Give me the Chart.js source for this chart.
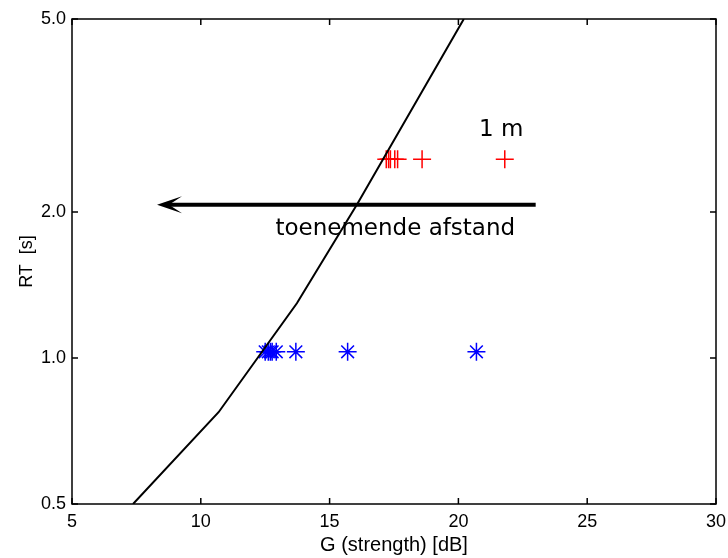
<!DOCTYPE html>
<html>
<head>
<meta charset="utf-8">
<script src="https://cdn.jsdelivr.net/npm/chart.js@4.4.1/dist/chart.umd.min.js"></script>
<style>
    html, body { margin: 0; padding: 0; background: #fff; }
    #wrap { width: 728px; height: 558px; }
</style>
</head>
<body>
<div id="wrap"><canvas id="rtChart" width="728" height="558"></canvas></div>
<script>
// Reference curve (G vs RT)
const curveG = [7.37, 10.69, 13.73, 16.08, 20.21];
const curveRT = [0.5, 0.773, 1.297, 2.08, 5.0];

// Red + markers (RT ~ 2.6 s)
const redG = [17.20, 17.29, 17.36, 17.53, 17.64, 18.59, 21.80];
const redRT = [2.57, 2.57, 2.57, 2.57, 2.57, 2.57, 2.57];

// Blue * markers (RT ~ 1.0 s)
const blueG = [12.50, 12.62, 12.70, 12.77, 12.93, 13.69, 15.70, 20.70];
const blueRT = [1.03, 1.03, 1.03, 1.03, 1.03, 1.03, 1.03, 1.03];

// Tick labels
const xTicks = [5, 10, 15, 20, 25, 30];
const yTicks = [0.5, 1.0, 2.0, 5.0];

// Annotations (in data units)
const arrowTail = [23.0, 2.07];
const arrowTip = [8.3, 2.07];
const noteTexts = ['1 m', 'toenemende afstand'];
const noteG = [20.8, 17.55];
const noteRT = [2.87, 1.79];

const toPoints = (xs, ys) => xs.map((v, i) => ({ x: v, y: ys[i] }));

// Frame, inward ticks, arrow and text
const annotate = {
    id: 'annotate',
    afterDraw(chart) {
        const { ctx, chartArea: a, scales: { x, y } } = chart;
        ctx.save();
        ctx.strokeStyle = '#000';
        ctx.lineWidth = 1.5;
        ctx.strokeRect(a.left, a.top, a.right - a.left, a.bottom - a.top);

        ctx.beginPath();
        x.ticks.forEach(t => {
            const px = x.getPixelForValue(t.value);
            ctx.moveTo(px, a.bottom); ctx.lineTo(px, a.bottom - 6);
            ctx.moveTo(px, a.top); ctx.lineTo(px, a.top + 6);
        });
        y.ticks.forEach(t => {
            const py = y.getPixelForValue(t.value);
            ctx.moveTo(a.left, py); ctx.lineTo(a.left + 6, py);
            ctx.moveTo(a.right, py); ctx.lineTo(a.right - 6, py);
        });
        ctx.stroke();

        // arrow
        const x0 = x.getPixelForValue(arrowTip[0]);
        const y0 = y.getPixelForValue(arrowTip[1]);
        const x1 = x.getPixelForValue(arrowTail[0]);
        const y1 = y.getPixelForValue(arrowTail[1]);
        ctx.lineWidth = 4;
        ctx.beginPath();
        ctx.moveTo(x1, y1);
        ctx.lineTo(x0 + 8, y0);
        ctx.stroke();
        ctx.fillStyle = '#000';
        ctx.beginPath();
        ctx.moveTo(x0, y0);
        ctx.lineTo(x0 + 25, y0 - 8.5);
        ctx.lineTo(x0 + 12, y0);
        ctx.lineTo(x0 + 25, y0 + 8.5);
        ctx.closePath();
        ctx.fill();

        // text
        ctx.font = '23px "DejaVu Sans"';
        ctx.textBaseline = 'alphabetic';
        ctx.textAlign = 'left';
        ctx.fillText(noteTexts[0], x.getPixelForValue(noteG[0]), y.getPixelForValue(noteRT[0]));
        ctx.textAlign = 'center';
        ctx.fillText(noteTexts[1], x.getPixelForValue(noteG[1]), y.getPixelForValue(noteRT[1]));
        ctx.restore();
    }
};

const tickFont = { family: '"Liberation Sans", Arial, sans-serif', size: 18 };
const titleFont = { family: '"Liberation Sans", Arial, sans-serif', size: 20 };

const ctx = document.getElementById('rtChart').getContext('2d');
const rtChart = new Chart(ctx, {
    type: 'scatter',
    data: {
        datasets: [
            {
                data: toPoints(curveG, curveRT),
                showLine: true,
                borderColor: '#000',
                borderWidth: 2,
                pointRadius: 0,
                tension: 0
            },
            {
                data: toPoints(redG, redRT),
                pointStyle: 'cross',
                pointRadius: 9,
                borderColor: '#ff0000',
                borderWidth: 1.5
            },
            {
                data: toPoints(blueG, blueRT),
                pointStyle: 'star',
                pointRadius: 9,
                borderColor: '#0000ff',
                borderWidth: 1.5
            }
        ]
    },
    options: {
        responsive: false,
        animation: false,
        layout: { padding: { left: 0, right: 12, top: 19, bottom: 0 } },
        scales: {
            x: {
                type: 'linear',
                min: 5,
                max: 30,
                afterBuildTicks: s => { s.ticks = xTicks.map(v => ({ value: v })); },
                afterFit: s => { s.height = 54; s.paddingLeft = 0; s.paddingRight = 0; },
                grid: { display: false, drawTicks: false },
                border: { display: false },
                ticks: { color: '#000', font: tickFont, padding: 7, maxRotation: 0 },
                title: {
                    display: true,
                    text: 'G (strength) [dB]',
                    color: '#000',
                    font: titleFont,
                    padding: { top: 1, bottom: 1 }
                }
            },
            y: {
                type: 'logarithmic',
                min: 0.5,
                max: 5,
                afterBuildTicks: s => { s.ticks = yTicks.map(v => ({ value: v })); },
                afterFit: s => { s.width = 72; s.paddingTop = 0; s.paddingBottom = 0; },
                grid: { display: false, drawTicks: false },
                border: { display: false },
                ticks: {
                    color: '#000',
                    font: tickFont,
                    padding: 6,
                    callback: v => Number(v).toFixed(1)
                },
                title: {
                    display: true,
                    text: 'RT  [s]',
                    color: '#000',
                    font: tickFont,
                    padding: { top: 16, bottom: 0 }
                }
            }
        },
        plugins: {
            legend: { display: false },
            tooltip: { enabled: false }
        }
    },
    plugins: [annotate]
});
</script>
</body>
</html>
